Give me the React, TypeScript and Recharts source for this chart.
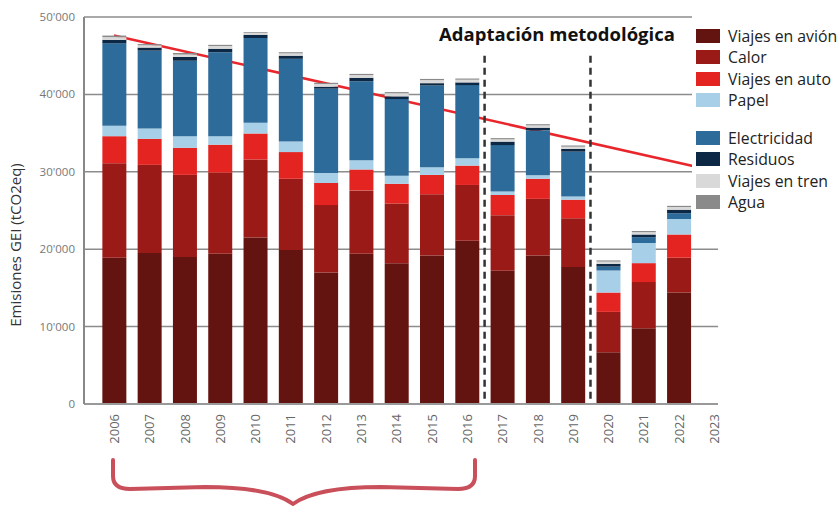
import {
  ComposedChart, Bar, Line, XAxis, YAxis, CartesianGrid, ReferenceLine, Legend,
} from 'recharts'

const YEARS = [2006, 2007, 2008, 2009, 2010, 2011, 2012, 2013, 2014, 2015, 2016, 2017, 2018, 2019, 2020, 2021, 2022, 2023]

// tCO2eq per category (2023 empty)
const AVION = [18900, 19500, 19000, 19400, 21500, 19900, 17000, 19400, 18200, 19200, 21100, 17200, 19200, 17700, 6700, 9800, 14400, null]
const CALOR = [12200, 11400, 10600, 10500, 10100, 9200, 8700, 8200, 7700, 7900, 7200, 7200, 7300, 6300, 5200, 5950, 4500, null]
const AUTO = [3500, 3350, 3500, 3600, 3350, 3450, 2850, 2700, 2550, 2500, 2500, 2600, 2600, 2400, 2500, 2450, 3000, null]
const PAPEL = [1350, 1350, 1500, 1100, 1400, 1350, 1300, 1200, 1050, 1000, 950, 450, 450, 400, 2850, 2600, 2000, null]
const ELEC = [10650, 10050, 9750, 10850, 10950, 10700, 10900, 10200, 9900, 10550, 9450, 6000, 5800, 5800, 500, 750, 750, null]
const RESID = [450, 400, 500, 450, 400, 400, 250, 450, 350, 300, 350, 450, 350, 350, 350, 350, 450, null]
const TREN = [350, 300, 300, 350, 250, 300, 350, 350, 400, 400, 350, 300, 300, 300, 300, 300, 350, null]
const AGUA = [200, 150, 200, 150, 100, 150, 150, 150, 150, 150, 150, 150, 150, 150, 150, 150, 150, null]

// red target line (start / end)
const META = [47600, null, null, null, null, null, null, null, null, null, null, null, null, null, null, null, null, 30130]

const Y_TICKS = [0, 10000, 20000, 30000, 40000, 50000]
const X_TICKS = YEARS.map((_, i) => i)

const SERIES = [
  { key: 'avion', name: 'Viajes en avión', color: '#641410', values: AVION },
  { key: 'calor', name: 'Calor', color: '#991a16', values: CALOR },
  { key: 'auto', name: 'Viajes en auto', color: '#e32421', values: AUTO },
  { key: 'papel', name: 'Papel', color: '#a7cfe7', values: PAPEL },
  { key: 'elec', name: 'Electricidad', color: '#2d6b9a', values: ELEC },
  { key: 'resid', name: 'Residuos', color: '#0c2845', values: RESID },
  { key: 'tren', name: 'Viajes en tren', color: '#d9d9d9', values: TREN },
  { key: 'agua', name: 'Agua', color: '#8a8a8a', values: AGUA },
]

const data = YEARS.map((year, i) => {
  const row: Record<string, number | null> = { idx: i, year, meta: META[i] }
  SERIES.forEach((s) => { row[s.key] = s.values[i] })
  return row
})

const FONT = '"Open Sans", "DejaVu Sans", sans-serif'

const fmtY = (v: number) => (v === 0 ? '0' : `${v / 1000}'000`)

const YearTick = ({ x, y, payload }: { x?: number; y?: number; payload?: { value: number } }) => (
  <text
    x={x}
    y={y}
    transform={`rotate(-90 ${x} ${y})`}
    textAnchor="end"
    dominantBaseline="central"
    fontSize={13}
    fill="#666"
  >
    {YEARS[payload?.value ?? 0]}
  </text>
)

const LegendBox = () => (
  <div style={{ background: '#fff', width: 146, height: 206, paddingTop: 11, boxSizing: 'border-box', fontFamily: FONT, fontSize: 15.8, color: '#222' }}>
    {SERIES.map((s, i) => (
      <div
        key={s.key}
        style={{ display: 'flex', alignItems: 'center', height: 21.5, marginTop: i === 4 ? 16 : 0, whiteSpace: 'nowrap' }}
      >
        <span style={{ display: 'inline-block', width: 24, height: 14, background: s.color, marginLeft: 4, marginRight: 8 }} />
        {s.name}
      </div>
    ))}
  </div>
)

export default function App() {
  return (
    <div style={{ position: 'fixed', left: 0, top: 0, width: 838, height: 506, background: '#fff', fontFamily: FONT }}>
      <ComposedChart width={838} height={506} data={data} margin={{ top: 17, right: 120, bottom: 52, left: 24 }}>
        <CartesianGrid vertical={false} stroke="#8c8c8c" strokeWidth={1.5} />
        <XAxis
          type="number"
          dataKey="idx"
          domain={[-0.85, 17.113]}
          allowDataOverflow
          ticks={X_TICKS}
          interval={0}
          height={50}
          tick={<YearTick />}
          tickLine={false}
          tickSize={0}
          tickMargin={10}
          axisLine={{ stroke: '#999', strokeWidth: 2 }}
        />
        <YAxis
          width={60}
          domain={[0, 50000]}
          ticks={Y_TICKS}
          tickFormatter={fmtY}
          tick={{ fill: '#777', fontSize: 11.5 }}
          tickLine={false}
          tickSize={0}
          tickMargin={9}
          axisLine={{ stroke: '#888', strokeWidth: 2 }}
        />
        {/* target line sits behind the bars */}
        <Line
          dataKey="meta"
          stroke="#e8262b"
          strokeWidth={2.5}
          dot={false}
          connectNulls
          legendType="none"
          zIndex={0}
          isAnimationActive={false}
        />
        {SERIES.map((s) => (
          <Bar key={s.key} dataKey={s.key} name={s.name} stackId="a" fill={s.color} barSize={24} isAnimationActive={false} />
        ))}
        <ReferenceLine segment={[{ x: 10.5, y: 45000 }, { x: 10.5, y: 0 }]} stroke="#333" strokeWidth={2.5} strokeDasharray="7 5" />
        <ReferenceLine segment={[{ x: 13.5, y: 45000 }, { x: 13.5, y: 0 }]} stroke="#333" strokeWidth={2.5} strokeDasharray="7 5" />
        <Legend
          layout="horizontal"
          verticalAlign="middle"
          align="center"
          content={<LegendBox />}
          wrapperStyle={{ left: 692, top: 14, width: 146, height: 206 }}
        />
      </ComposedChart>

      <svg width={838} height={506} style={{ position: 'absolute', left: 0, top: 0, pointerEvents: 'none' }}>
        <text x={15} y={245} transform="rotate(-90 15 245)" textAnchor="middle" dominantBaseline="central" fontSize={15} fill="#333">
          Emisiones GEI (tCO2eq)
        </text>
        <text x={557} y={33} textAnchor="middle" dominantBaseline="central" fontSize={18.5} fontWeight="bold" fill="#111">
          Adaptación metodológica
        </text>
        {/* bracket under 2006-2016 */}
        <path
          d="M113,460 L113,476 Q113,489 130,489 L205,487 Q270,487 293,504 Q316,487 381,487 L458,489 Q475,489 475,476 L475,460"
          fill="none"
          stroke="#c94f5a"
          strokeWidth={4}
          strokeLinecap="round"
          strokeLinejoin="round"
        />
      </svg>
    </div>
  )
}
